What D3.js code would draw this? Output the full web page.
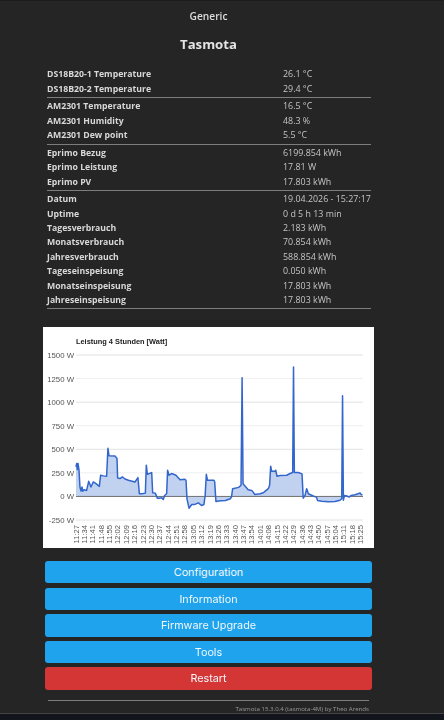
<!DOCTYPE html>
<html><head><meta charset="utf-8">
<script src="https://cdn.jsdelivr.net/npm/d3@7"></script>
<style>
html,body{margin:0;padding:0;background:#252525;width:444px;height:720px;overflow:hidden}
#page{position:relative;width:444px;height:720px;filter:blur(0.3px)}
.t{position:absolute;white-space:nowrap;font-family:"Open Sans",sans-serif;color:#e6e6e6}
.hr{position:absolute;left:47px;width:324px;height:1px;background:#7d7d7d}
.btn{position:absolute;left:45px;width:327px;border-radius:3px;color:#f2f8fc;text-align:center;font-family:Inter,sans-serif;font-size:10.8px}
svg text{font-family:"Liberation Sans",Arial,sans-serif}
</style></head><body><div id="page"></div>
<script>
const pageHeader = "Generic";
const pageTitle = "Tasmota";
const rowGroups = [
 [["DS18B20-1 Temperature","26.1 °C"],["DS18B20-2 Temperature","29.4 °C"]],
 [["AM2301 Temperature","16.5 °C"],["AM2301 Humidity","48.3 %"],["AM2301 Dew point","5.5 °C"]],
 [["Eprimo Bezug","6199.854 kWh"],["Eprimo Leistung","17.81 W"],["Eprimo PV","17.803 kWh"]],
 [["Datum","19.04.2026 - 15:27:17"],["Uptime","0 d 5 h 13 min"],["Tagesverbrauch","2.183 kWh"],["Monatsverbrauch","70.854 kWh"],["Jahresverbrauch","588.854 kWh"],["Tageseinspeisung","0.050 kWh"],["Monatseinspeisung","17.803 kWh"],["Jahreseinspeisung","17.803 kWh"]]
];
const buttonLabels = ["Configuration","Information","Firmware Upgrade","Tools","Restart"];
const footerText = "Tasmota 15.3.0.4 (tasmota-4M) by Theo Arends";
const chartTitle = "Leistung 4 Stunden [Watt]";
const yTicks = [-250,0,250,500,750,1000,1250,1500];
const xTickLabels = ["11:27","11:34","11:41","11:48","11:55","12:02","12:09","12:16","12:23","12:30","12:37","12:44","12:51","12:58","13:05","13:12","13:19","13:26","13:33","13:40","13:47","13:54","14:01","14:08","14:15","14:22","14:29","14:36","14:43","14:50","14:57","15:04","15:11","15:18","15:25"];
// minutes after 11:27
const minutes = [0,0.6,1.1,1.7,2.5,3.3,4.2,5,5.6,6.7,8.9,10.6,12.5,14.5,16.7,19.5,20.6,22.9,25.6,26.7,27.6,32.6,34.3,34.8,36.8,38.7,41,43.8,49.3,51.8,53,54.9,58,58.8,59.7,63.3,64.1,66.3,68,70.2,71.6,73,74.1,75.8,76.6,77.8,80,83.6,87,91,92,92.8,94.5,96.8,99.5,102.3,105,107,108,109,110,115.4,116,117,121,125,129,130,131,136,138,138.9,139.7,144,147,149.6,154,156.6,158,160.8,161.9,162.8,163.6,166.4,167,168.1,170.6,176.2,179,181.2,181.9,182.6,185.9,189,190,191.5,192.9,194.3,198.4,201,202,205.5,211,216.6,220.8,222.2,222.9,223.6,224.5,226.5,228.4,230,233.4,237.6,238.4,239.5];
const watts   = [314,350,285,350,280,100,57,100,55,70,64,160,100,154,135,107,225,218,214,510,432,428,403,196,190,207,185,171,153,200,28,28,35,332,235,253,40,35,-18,-18,-15,-32,10,28,278,225,243,225,178,182,171,-25,-125,-85,-85,-68,-96,-85,10,235,171,171,153,-54,-46,-43,-25,-7,82,96,118,1258,135,71,64,21,28,39,53,82,118,321,268,268,278,214,221,225,243,253,1372,253,253,239,-18,10,82,28,4,-7,-43,-50,-57,-54,-40,-25,1068,-40,10,4,-7,10,18,36,21,18];

const page = d3.select("#page");
function text(x,cy,s,size,weight,color,anchor){
  const d = page.append("div").attr("class","t").text(s)
    .style("font-size",size+"px").style("font-weight",weight).style("color",color)
    .style("line-height","14px").style("top",(cy-7)+"px");
  if(anchor==="middle") d.style("left",(x-200)+"px").style("width","400px").style("text-align","center");
  else if(anchor==="end") d.style("right",(444-x)+"px");
  else d.style("left",x+"px");
}
text(208.5,16.2,pageHeader,10.2,600,"#dcdcdc","middle");
text(208.5,43.8,pageTitle,13.2,700,"#e4e4e4","middle");

const rowYs = [[74,88.5],[106,120.5,135],[153,167.3,181.5],[199,213.5,228,242,256.8,271,285.5,299.5]];
const hrYs = [97,143.5,190,308];
rowGroups.forEach((g,i)=>g.forEach((r,j)=>{
  text(47,rowYs[i][j],r[0],8.7,700,"#d8d8d8");
  text(283,rowYs[i][j],r[1],8.9,400,"#c4c4c4");
}));
hrYs.forEach(y=>page.append("div").attr("class","hr").style("top",y+"px"));

// chart
const svg = page.append("svg").attr("width",331).attr("height",221)
  .style("position","absolute").style("left","43px").style("top","327px").style("background","#fff");
const x = d3.scaleLinear().domain([0,240]).range([33,320]);
const y = d3.scaleLinear().domain([-250,1500]).range([193,28]);
svg.append("text").attr("x",33).attr("y",16.5).attr("font-size",7.4).attr("font-weight",700).attr("fill","#222").text(chartTitle);
const yAxis = d3.axisLeft(y).tickValues(yTicks).tickSize(0).tickPadding(2).tickFormat(d=>d+" W");
const gy = svg.append("g").attr("transform","translate(33,0)").call(yAxis);
gy.select(".domain").remove();
gy.selectAll("text").attr("font-size",7.8).attr("fill","#555").attr("font-family","Liberation Sans");
svg.append("g").selectAll("line").data(yTicks.filter(d=>d!==0)).join("line")
  .attr("x1",x(0)).attr("x2",x(240)).attr("y1",d=>y(d)).attr("y2",d=>y(d))
  .attr("stroke",(d,i)=>i%2?"#efefef":"#e2e2e2").attr("stroke-width",1);
svg.append("path").datum(minutes.map((m,i)=>[m,watts[i]]))
  .attr("fill","#3366cc").attr("fill-opacity",.3)
  .attr("d",d3.area().x(d=>x(d[0])).y0(y(0)).y1(d=>y(d[1])));
svg.append("line").attr("x1",x(0)).attr("x2",x(240)).attr("y1",y(0)).attr("y2",y(0)).attr("stroke","#6f6f6f").attr("stroke-width",1);
svg.append("path").datum(minutes.map((m,i)=>[m,watts[i]]))
  .attr("fill","none").attr("stroke","#3366cc").attr("stroke-width",1.5).attr("stroke-linejoin","round")
  .attr("d",d3.line().x(d=>x(d[0])).y(d=>y(d[1])));
svg.append("g").selectAll("text").data(xTickLabels).join("text")
  .attr("transform",(d,i)=>`translate(${x(i*7)+2.6},198) rotate(-90)`)
  .attr("text-anchor","end").attr("font-size",7.6).attr("fill","#555").text(d=>d);

// buttons
const btnTops = [[561,22],[587.5,22],[614,22.5],[641,22],[667,23]];
buttonLabels.forEach((b,i)=>{
  page.append("div").attr("class","btn").text(b)
   .style("top",btnTops[i][0]+"px").style("height",btnTops[i][1]+"px").style("line-height",(btnTops[i][1]+1.5)+"px")
   .style("background",i===4?"#d43535":"#1fa3ec");
});
page.append("div").attr("class","hr").style("top","700px").style("left","48px").style("width","321px");
text(369,708.5,footerText,6.1,400,"#9a9a9a","end");
page.append("div").style("position","absolute").style("left",0).style("top",0).style("width","444px").style("height","1px").style("background","#1c1c1c");
page.append("div").style("position","absolute").style("left",0).style("top","713px").style("width","444px").style("height","1px").style("background","#444");
page.append("div").style("position","absolute").style("left",0).style("top","714px").style("width","444px").style("height","6px").style("background","#12151c");
</script></body></html>
